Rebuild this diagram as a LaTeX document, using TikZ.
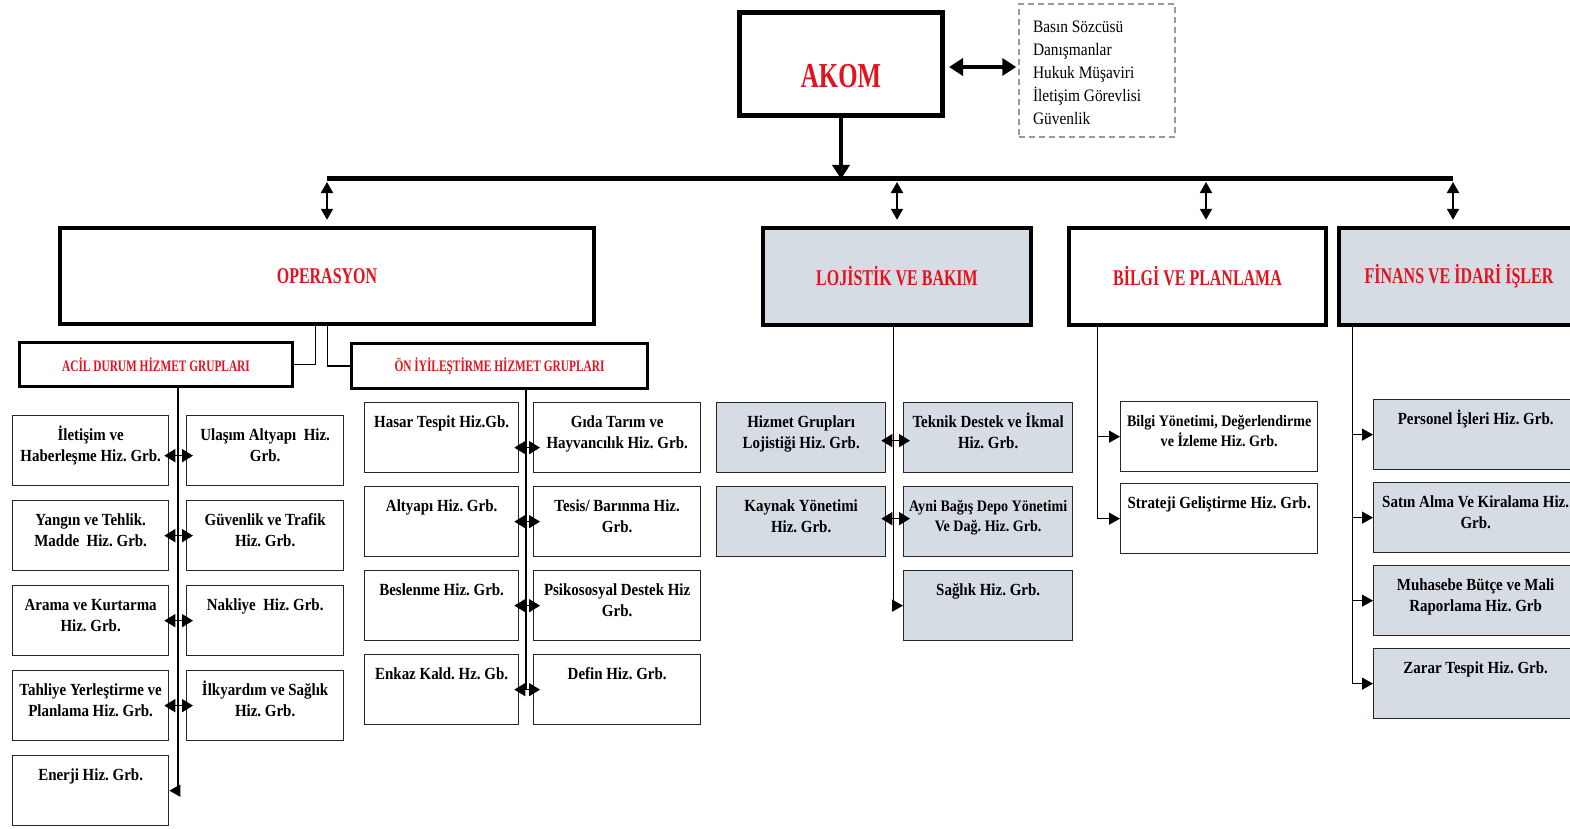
\documentclass[tikz,border=0pt]{standalone}
\usepackage{fontspec}
\setmainfont[FakeStretch=0.88]{Liberation Serif}
\newfontfamily\hdfont[FakeStretch=0.71]{Liberation Serif}
\usepackage{xcolor}
\usetikzlibrary{positioning, arrows.meta}
\definecolor{akred}{RGB}{226,18,30}
\definecolor{boxgray}{RGB}{214,220,228}
\frenchspacing

\begin{document}
\begin{tikzpicture}[x=1pt,y=-1pt,
  hdr/.style={draw, line width=4.5pt, fill=white, text=akred, font=\hdfont\bfseries\fontsize{22.5}{26}\selectfont},
  sub/.style={draw, line width=3pt, fill=white, text=akred, font=\hdfont\bfseries\fontsize{16}{19}\selectfont},
  grb/.style={draw=black!85, line width=1.3pt, fill=white, anchor=north west, text width=#1-4pt, align=flush center, inner xsep=2pt, inner ysep=0pt, text height=25pt, text depth=45pt, font=\bfseries\fontsize{17}{20.5}\selectfont},
  grbg/.style={grb=#1, fill=boxgray},
  con/.style={line width=1.3pt},
  dbl/.style={line width=1.6pt, {Triangle[length=11pt,width=13pt]}-{Triangle[length=11pt,width=13pt]}, shorten <=-5pt, shorten >=-7pt},
  one/.style={line width=1.3pt, -{Triangle[length=11pt,width=12pt]}},
  bus/.style={line width=5pt},
  drop/.style={line width=2pt, {Triangle[length=11pt,width=12pt]}-{Triangle[length=11pt,width=12pt]}, shorten <=3pt, shorten >=6pt},
  big/.style={line width=4pt, -{Triangle[length=14pt,width=17pt]}}]
\useasboundingbox (0,0) rectangle (1570,829);
\clip (0,0) rectangle (1570,829);

\node(akom)[hdr, line width=5pt, minimum width=203pt, minimum height=103pt, text height=50pt, text depth=2pt, font=\hdfont\bfseries\fontsize{35}{40}\selectfont] at (841,64) {AKOM};
\node(dsh)[draw=black!40, dash pattern=on 6pt off 4pt, line width=1.5pt, text width=128pt, inner xsep=14pt, inner ysep=0pt, text height=29pt, text depth=104pt, align=flush left, font=\fontsize{17.5}{22.8}\selectfont] at (1097,70.5) {Basın Sözcüsü\\Danışmanlar\\Hukuk Müşaviri\\İletişim Görevlisi\\Güvenlik};

\node(ops)[hdr, minimum width=534pt, minimum height=96pt] at (327,276) {OPERASYON};
\node(loj)[hdr, fill=boxgray, minimum width=268pt, minimum height=97pt] at (897,276.5) {LOJİSTİK VE BAKIM};
\node(bil)[hdr, minimum width=257pt, minimum height=97pt] at (1197.5,276.5) {BİLGİ VE PLANLAMA};
\node(fin)[hdr, fill=boxgray, minimum width=240pt, minimum height=97pt] at (1459,276.5) {FİNANS VE İDARİ İŞLER};

\node(acil)[sub, minimum width=273pt, minimum height=44pt] at (156,364.5) {ACİL DURUM HİZMET GRUPLARI};
\node(on)[sub, minimum width=296pt, minimum height=45pt] at (499.5,366) {ÖN İYİLEŞTİRME HİZMET GRUPLARI};

\node(a1)[grb=156pt] at (12,415) {İletişim ve\\Haberleşme Hiz. Grb.};
\node(a2)[grb=157pt, xshift=174pt] at (a1.north west) {Ulaşım Altyapı~ Hiz.\\Grb.};
\node(a3)[grb=156pt, yshift=-85pt] at (a1.north west) {Yangın ve Tehlik.\\Madde~ Hiz. Grb.};
\node(a4)[grb=157pt, xshift=174pt] at (a3.north west) {Güvenlik ve Trafik\\Hiz. Grb.};
\node(a5)[grb=156pt, yshift=-85pt] at (a3.north west) {Arama ve Kurtarma\\Hiz. Grb.};
\node(a6)[grb=157pt, xshift=174pt] at (a5.north west) {Nakliye~ Hiz. Grb.};
\node(a7)[grb=156pt, yshift=-85pt] at (a5.north west) {Tahliye Yerleştirme ve\\Planlama Hiz. Grb.};
\node(a8)[grb=157pt, xshift=174pt] at (a7.north west) {İlkyardım ve Sağlık\\Hiz. Grb.};
\node(a9)[grb=156pt, yshift=-85pt] at (a7.north west) {Enerji Hiz. Grb.};

\node(o1)[grb=154pt] at (364,402) {Hasar Tespit Hiz.Gb.};
\node(o2)[grb=167pt, xshift=169pt] at (o1.north west) {Gıda Tarım ve\\Hayvancılık Hiz. Grb.};
\node(o3)[grb=154pt, yshift=-84pt] at (o1.north west) {Altyapı Hiz. Grb.};
\node(o4)[grb=167pt, xshift=169pt] at (o3.north west) {Tesis/ Barınma Hiz.\\Grb.};
\node(o5)[grb=154pt, yshift=-84pt] at (o3.north west) {Beslenme Hiz. Grb.};
\node(o6)[grb=167pt, xshift=169pt] at (o5.north west) {Psikososyal Destek Hiz\\Grb.};
\node(o7)[grb=154pt, yshift=-84pt] at (o5.north west) {Enkaz Kald. Hz. Gb.};
\node(o8)[grb=167pt, xshift=169pt] at (o7.north west) {Defin Hiz. Grb.};

\node(l1)[grbg=169pt] at (716,402) {Hizmet Grupları\\Lojistiği Hiz. Grb.};
\node(l2)[grbg=169pt, xshift=187pt] at (l1.north west) {Teknik Destek ve İkmal\\Hiz. Grb.};
\node(l3)[grbg=169pt, yshift=-84pt] at (l1.north west) {Kaynak Yönetimi\\Hiz. Grb.};
\node(l4)[grbg=169pt, xshift=187pt, font=\bfseries\fontsize{16}{19.5}\selectfont] at (l3.north west) {Ayni Bağış Depo Yönetimi\\Ve Dağ. Hiz. Grb.};
\node(l5)[grbg=169pt, yshift=-84pt] at (l4.north west) {Sağlık Hiz. Grb.};

\node(b1)[grb=197pt, font=\bfseries\fontsize{16}{20}\selectfont] at (1120,401) {Bilgi Yönetimi, Değerlendirme\\ve İzleme Hiz. Grb.};
\node(b2)[grb=197pt, yshift=-82pt] at (b1.north west) {Strateji Geliştirme Hiz. Grb.};

\node(f1)[grbg=204pt] at (1373,399) {Personel İşleri Hiz. Grb.};
\node(f2)[grbg=204pt, yshift=-83pt] at (f1.north west) {Satın Alma Ve Kiralama Hiz.\\Grb.};
\node(f3)[grbg=204pt, yshift=-83pt] at (f2.north west) {Muhasebe Bütçe ve Mali\\Raporlama Hiz. Grb};
\node(f4)[grbg=204pt, yshift=-83pt] at (f3.north west) {Zarar Tespit Hiz. Grb.};

\coordinate(bl) at (327,179);
\coordinate(bb) at (1206,179);
\coordinate(br) at (1453,179);
\coordinate(ae) at ([yshift=-3pt]akom.east);
\draw[bus] (bl) -- (br);
\draw[big] (akom.south) -- (akom.south |- bl);
\draw[big, {Triangle[length=14pt,width=17pt]}-{Triangle[length=14pt,width=17pt]}, shorten <=4pt, shorten >=2pt] (ae) -- (ae -| dsh.west);
\draw[drop] (ops.north |- bl) -- (ops.north);
\draw[drop] (loj.north |- bl) -- (loj.north);
\draw[drop] (bb) -- (bb |- bil.north);
\draw[drop] (br) -- (br |- fin.north);

\coordinate(oa) at ([xshift=258pt]ops.south west);
\coordinate(ob) at ([xshift=270pt]ops.south west);
\draw[con] (oa) |- (acil.east);
\draw[con] (ob) |- (on.west);

\coordinate(av) at ([xshift=160pt]acil.south west);
\draw[one] (av) |- (a9.east);
\draw[dbl] ([yshift=-5pt]a1.east) -- ([yshift=-5pt]a2.west);
\draw[dbl] (a3.east) -- (a4.west);
\draw[dbl] (a5.east) -- (a6.west);
\draw[dbl] (a7.east) -- (a8.west);

\coordinate(ov) at ([xshift=176pt]on.south west);
\draw[con] (ov) -- (ov |- o7.east);
\draw[dbl] ([yshift=-10pt]o1.east) -- ([yshift=-10pt]o2.west);
\draw[dbl] (o3.east) -- (o4.west);
\draw[dbl] (o5.east) -- (o6.west);
\draw[dbl] (o7.east) -- (o8.west);

\coordinate(lv) at ([xshift=133pt]loj.south west);
\draw[one] (lv) |- (l5.west);
\draw[dbl] ([yshift=-3pt]l1.east) -- ([yshift=-3pt]l2.west);
\draw[dbl] ([yshift=3pt]l3.east) -- ([yshift=3pt]l4.west);

\coordinate(bv) at ([xshift=31pt]bil.south west);
\draw[one] (bv) |- (b1.west);
\draw[one] (bv) |- (b2.west);

\coordinate(fv) at ([xshift=16pt]fin.south west);
\draw[one] (fv) |- (f1.west);
\draw[one] (fv) |- (f2.west);
\draw[one] (fv) |- (f3.west);
\draw[one] (fv) |- (f4.west);
\end{tikzpicture}
\end{document}
